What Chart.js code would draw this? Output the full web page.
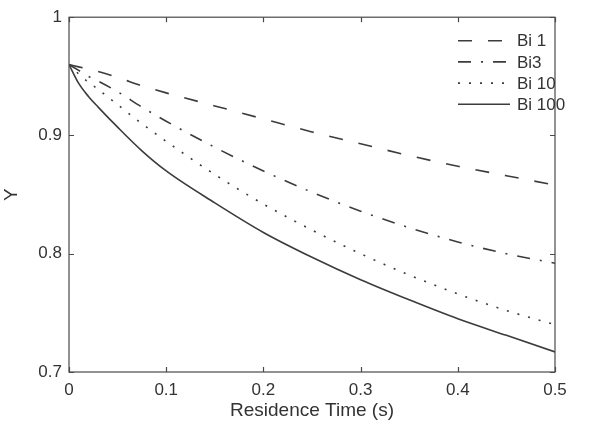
<!DOCTYPE html>
<html>
<head>
<meta charset="utf-8">
<script src="https://cdn.jsdelivr.net/npm/chart.js@4/dist/chart.umd.min.js"></script>
<style>
  html, body { margin: 0; padding: 0; background: #fff; }
  #wrap { width: 600px; height: 432px; }
</style>
</head>
<body>
<div id="wrap"><canvas id="chart" width="600" height="432"></canvas></div>
<script>
'use strict';

// ─── Data ─────────────────────────────────────────────────────────────────────

const TIME   = [0, 0.01, 0.02, 0.03, 0.05, 0.075, 0.1, 0.15, 0.2, 0.25, 0.3, 0.35, 0.4, 0.45, 0.5];
const BI_1   = [0.96, 0.958, 0.956, 0.954, 0.949, 0.942, 0.936, 0.925, 0.914, 0.903, 0.893, 0.883, 0.874, 0.866, 0.858];
const BI_3   = [0.96, 0.955, 0.950, 0.946, 0.937, 0.924, 0.912, 0.890, 0.870, 0.852, 0.836, 0.822, 0.810, 0.800, 0.792];
const BI_10  = [0.96, 0.952, 0.945, 0.939, 0.926, 0.910, 0.895, 0.867, 0.842, 0.820, 0.800, 0.782, 0.766, 0.752, 0.740];
const BI_100 = [0.96, 0.944, 0.933, 0.924, 0.907, 0.887, 0.870, 0.843, 0.818, 0.797, 0.778, 0.761, 0.745, 0.731, 0.717];

const LABELS = ['Bi 1', 'Bi3', 'Bi 10', 'Bi 100'];
const X_TICKS = [0, 0.1, 0.2, 0.3, 0.4, 0.5];
const Y_TICKS = [0.7, 0.8, 0.9, 1];

const INK   = '#3c3c3c';
const FRAME = '#4a4a4a';
const TEXT  = '#333';
const FONT  = "'Liberation Sans', Arial, sans-serif";

Chart.defaults.font.family = FONT;
Chart.defaults.color = TEXT;

const fmt = v => String(Number(Number(v).toFixed(1)));

function series(label, ys, dash) {
  return {
    label,
    data: TIME.map((x, i) => ({ x, y: ys[i] })),
    borderColor: INK,
    borderWidth: 1.6,
    borderDash: dash,
    pointRadius: 0,
    fill: false,
    cubicInterpolationMode: 'monotone',
  };
}

// ─── Frame with inward ticks (MATLAB look) ────────────────────────────────────

const framePlugin = {
  id: 'frame',
  afterDatasetsDraw(chart) {
    const { ctx, chartArea: a, scales: { x, y } } = chart;
    const t = 5;
    ctx.save();
    ctx.strokeStyle = FRAME;
    ctx.lineWidth = 1.2;
    ctx.setLineDash([]);
    ctx.strokeRect(a.left, a.top, a.right - a.left, a.bottom - a.top);
    ctx.beginPath();
    X_TICKS.forEach(v => {
      const px = Math.round(x.getPixelForValue(v)) + 0.5;
      ctx.moveTo(px, a.bottom); ctx.lineTo(px, a.bottom - t);
      ctx.moveTo(px, a.top);    ctx.lineTo(px, a.top + t);
    });
    Y_TICKS.forEach(v => {
      const py = Math.round(y.getPixelForValue(v)) + 0.5;
      ctx.moveTo(a.left, py);  ctx.lineTo(a.left + t, py);
      ctx.moveTo(a.right, py); ctx.lineTo(a.right - t, py);
    });
    ctx.stroke();
    ctx.restore();
  },
};

// ─── Legend inside the axes, top right ────────────────────────────────────────

const legendPlugin = {
  id: 'innerLegend',
  afterDatasetsDraw(chart) {
    const { ctx, chartArea: a } = chart;
    const x0 = a.right - 97, x1 = a.right - 45, tx = a.right - 38;
    ctx.save();
    ctx.font = `17px ${FONT}`;
    ctx.textBaseline = 'middle';
    chart.data.datasets.forEach((ds, i) => {
      const yy = a.top + 23.5 + i * 21.2;
      ctx.strokeStyle = ds.borderColor;
      ctx.lineWidth = ds.borderWidth;
      ctx.setLineDash(ds.borderDash || []);
      ctx.beginPath();
      ctx.moveTo(x0, yy);
      ctx.lineTo(x1, yy);
      ctx.stroke();
      ctx.fillStyle = TEXT;
      ctx.fillText(ds.label, tx, yy + 1);
    });
    ctx.restore();
  },
};

new Chart(document.getElementById('chart'), {
  type: 'line',
  data: {
    datasets: [
      series(LABELS[0], BI_1,   [14, 16]),
      series(LABELS[1], BI_3,   [13, 10, 2, 10]),
      series(LABELS[2], BI_10,  [2, 9]),
      series(LABELS[3], BI_100, []),
    ],
  },
  options: {
    animation: false,
    responsive: false,
    parsing: false,
    layout: { padding: { left: 0, right: 45, top: 16, bottom: 0 } },
    plugins: { legend: { display: false }, tooltip: { enabled: false } },
    scales: {
      x: {
        type: 'linear',
        min: 0,
        max: 0.5,
        afterBuildTicks: s => { s.ticks = X_TICKS.map(value => ({ value })); },
        afterFit: s => { s.height = 60; },
        grid: { display: false, drawTicks: false },
        border: { display: false },
        ticks: { callback: fmt, padding: 8, maxRotation: 0, font: { size: 17 }, color: TEXT },
        title: { display: true, text: 'Residence Time (s)', font: { size: 19 }, color: TEXT, padding: { top: 0, bottom: 10 } },
      },
      y: {
        type: 'linear',
        min: 0.7,
        max: 1,
        afterBuildTicks: s => { s.ticks = Y_TICKS.map(value => ({ value })); },
        afterFit: s => { s.width = 69; },
        grid: { display: false, drawTicks: false },
        border: { display: false },
        ticks: { callback: fmt, padding: 7, font: { size: 17 }, color: TEXT },
        title: { display: true, text: 'Y', font: { size: 19 }, color: TEXT, padding: { top: 0, bottom: 4 } },
      },
    },
  },
  plugins: [framePlugin, legendPlugin],
});
</script>
</body>
</html>
